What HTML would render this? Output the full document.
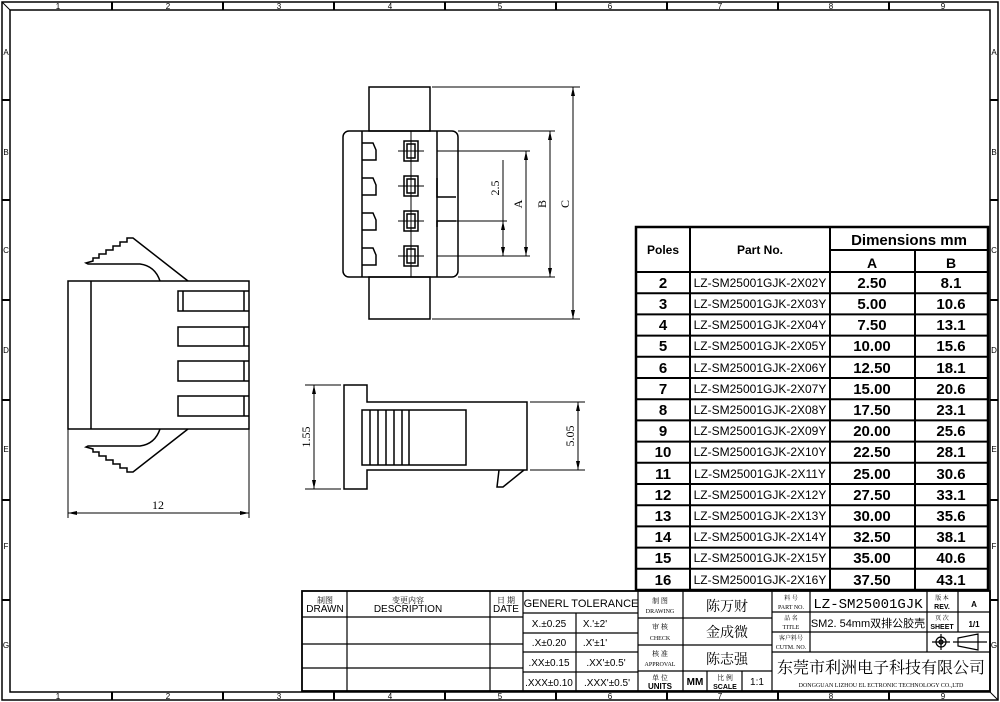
<!DOCTYPE html>
<html><head><meta charset="utf-8"><style>
html,body{margin:0;padding:0;background:#fff}
svg{display:block}
text{font-family:"Liberation Sans","Noto Sans CJK SC",sans-serif;fill:#000}
.s{font-family:"Liberation Serif","Noto Serif CJK SC",serif}
</style></head><body>
<svg width="1000" height="702" viewBox="0 0 1000 702" xmlns="http://www.w3.org/2000/svg">
<g fill="none" stroke="#000">
<!-- frame -->
<rect x="2" y="2" width="996" height="698" stroke-width="1.5"/>
<rect x="10" y="10" width="980" height="682" stroke-width="1.5"/>
<line x1="2" y1="2" x2="10" y2="10"/><line x1="998" y1="700" x2="990" y2="692"/>
<g stroke-width="2">
<line x1="112" y1="2" x2="112" y2="10"/><line x1="223" y1="2" x2="223" y2="10"/><line x1="334" y1="2" x2="334" y2="10"/><line x1="445" y1="2" x2="445" y2="10"/><line x1="556" y1="2" x2="556" y2="10"/><line x1="667" y1="2" x2="667" y2="10"/><line x1="778" y1="2" x2="778" y2="10"/><line x1="889" y1="2" x2="889" y2="10"/>
<line x1="112" y1="692" x2="112" y2="700"/><line x1="223" y1="692" x2="223" y2="700"/><line x1="334" y1="692" x2="334" y2="700"/><line x1="445" y1="692" x2="445" y2="700"/><line x1="556" y1="692" x2="556" y2="700"/><line x1="667" y1="692" x2="667" y2="700"/><line x1="778" y1="692" x2="778" y2="700"/><line x1="889" y1="692" x2="889" y2="700"/>
<line x1="2" y1="100" x2="10" y2="100"/><line x1="2" y1="200" x2="10" y2="200"/><line x1="2" y1="300" x2="10" y2="300"/><line x1="2" y1="400" x2="10" y2="400"/><line x1="2" y1="500" x2="10" y2="500"/><line x1="2" y1="600" x2="10" y2="600"/>
<line x1="990" y1="100" x2="998" y2="100"/><line x1="990" y1="200" x2="998" y2="200"/><line x1="990" y1="300" x2="998" y2="300"/><line x1="990" y1="400" x2="998" y2="400"/><line x1="990" y1="500" x2="998" y2="500"/><line x1="990" y1="600" x2="998" y2="600"/>
</g>

<!-- top view -->
<g stroke-width="1.5">
<rect x="369" y="87" width="61" height="44"/>
<rect x="369" y="277" width="61" height="42"/>
<rect x="343" y="131" width="115" height="146" rx="6"/>
<line x1="362" y1="131" x2="362" y2="277"/>
<line x1="437" y1="131" x2="437" y2="277"/>
<path d="M362 143 H373 L376 150 V160 H362"/>
<path d="M362 178 H373 L376 185 V195 H362"/>
<path d="M362 213 H373 L376 220 V230 H362"/>
<path d="M362 248 H373 L376 255 V265 H362"/>
<path d="M437 178 V197 H456 M437 227 V221 H456"/>
<rect x="404" y="141" width="14" height="20"/><rect x="407" y="144" width="8" height="14"/>
<rect x="404" y="176" width="14" height="20"/><rect x="407" y="179" width="8" height="14"/>
<rect x="404" y="211" width="14" height="20"/><rect x="407" y="214" width="8" height="14"/>
<rect x="404" y="246" width="14" height="20"/><rect x="407" y="249" width="8" height="14"/>
</g>
<g stroke-width="1">
<line x1="411" y1="131" x2="411" y2="277"/>
<line x1="398" y1="151" x2="424" y2="151"/><line x1="398" y1="186" x2="424" y2="186"/><line x1="398" y1="221" x2="424" y2="221"/><line x1="398" y1="256" x2="424" y2="256"/>
<line x1="437" y1="151" x2="530" y2="151"/><line x1="437" y1="256" x2="530" y2="256"/>
<line x1="437" y1="221" x2="507" y2="221"/>
<line x1="458" y1="131" x2="555" y2="131"/><line x1="458" y1="277" x2="555" y2="277"/>
<line x1="432" y1="87" x2="580" y2="87"/><line x1="432" y1="319" x2="580" y2="319"/>
<line x1="503" y1="160" x2="503" y2="256"/>
<line x1="526" y1="151" x2="526" y2="256"/>
<line x1="550" y1="131" x2="550" y2="277"/>
<line x1="573" y1="87" x2="573" y2="319"/>
</g>
<!-- left side view -->
<g stroke-width="1.5">
<rect x="68" y="281" width="181" height="148"/>
<line x1="91" y1="281" x2="91" y2="429"/>
<path d="M249 291 H178 V311 H249 M183 291 V311 M244 291 V311"/>
<path d="M249 327 H178 V346 H249 M244 327 V346"/>
<path d="M249 361 H178 V381 H249 M244 361 V381"/>
<path d="M249 396 H178 V416 H249 M244 396 V416"/>
<path d="M188 281 L133 238 H127 V242 H120 V246 H113 V250 H106 V254 H99 V258 H93 V261 L86 263 L88 264 H140 Q155 266 160 281"/>
<path d="M188 429 L133 472 H127 V468 H120 V464 H113 V460 H106 V456 H99 V452 H93 V449 L86 447 L88 446 H140 Q155 444 160 429"/>
</g>
<g stroke-width="1">
<line x1="68" y1="429" x2="68" y2="518"/><line x1="249" y1="429" x2="249" y2="518"/>
<line x1="68" y1="513" x2="249" y2="513"/>
</g>
<!-- front view -->
<g stroke-width="1.5">
<path d="M344 385 H367 V402 H527 V470 H367 V489 H344 Z"/>
<rect x="362" y="410" width="104" height="55"/>
<path d="M370 410 V465 M378 410 V465 M386 410 V465 M394 410 V465 M402 410 V465 M409 410 V465"/>
<path d="M499 470 L497 487 H503 L524 470"/>
</g>
<g stroke-width="1">
<line x1="305" y1="385" x2="341" y2="385"/><line x1="305" y1="489" x2="341" y2="489"/>
<line x1="314" y1="385" x2="314" y2="489"/>
<line x1="530" y1="402" x2="585" y2="402"/><line x1="530" y1="470" x2="585" y2="470"/>
<line x1="578" y1="402" x2="578" y2="470"/>
</g>
</g>
<!-- arrowheads -->
<g fill="#000">
<path d="M526 151 l-2 9 h4z M526 256 l-2 -9 h4z"/>
<path d="M550 131 l-2 9 h4z M550 277 l-2 -9 h4z"/>
<path d="M573 87 l-2 9 h4z M573 319 l-2 -9 h4z"/>
<path d="M503 221 l-2 9 h4z M503 256 l-2 -9 h4z"/>
<path d="M68 513 l9 -2 v4z M249 513 l-9 -2 v4z"/>
<path d="M314 385 l-2 9 h4z M314 489 l-2 -9 h4z"/>
<path d="M578 402 l-2 9 h4z M578 470 l-2 -9 h4z"/>
</g>
<g class="s" font-size="12">
<text class="s" transform="translate(499,188) rotate(-90)" text-anchor="middle">2.5</text>
<text class="s" transform="translate(522,204) rotate(-90)" text-anchor="middle">A</text>
<text class="s" transform="translate(546,204) rotate(-90)" text-anchor="middle">B</text>
<text class="s" transform="translate(569,204) rotate(-90)" text-anchor="middle">C</text>
<text class="s" transform="translate(310,437) rotate(-90)" text-anchor="middle">1.55</text>
<text class="s" transform="translate(574,436) rotate(-90)" text-anchor="middle">5.05</text>
<text class="s" x="158" y="509" text-anchor="middle">12</text>
</g>
<!-- frame labels -->
<g font-size="8" text-anchor="middle">
<text x="58" y="9">1</text><text x="168" y="9">2</text><text x="279" y="9">3</text><text x="390" y="9">4</text><text x="500" y="9">5</text><text x="610" y="9">6</text><text x="720" y="9">7</text><text x="831" y="9">8</text><text x="943" y="9">9</text>
<text x="58" y="699">1</text><text x="168" y="699">2</text><text x="279" y="699">3</text><text x="390" y="699">4</text><text x="500" y="699">5</text><text x="610" y="699">6</text><text x="720" y="699">7</text><text x="831" y="699">8</text><text x="943" y="699">9</text>
<text x="6" y="55">A</text><text x="6" y="155">B</text><text x="6" y="253">C</text><text x="6" y="353">D</text><text x="6" y="452">E</text><text x="6" y="549">F</text><text x="6" y="648">G</text>
<text x="994" y="55">A</text><text x="994" y="155">B</text><text x="994" y="253">C</text><text x="994" y="353">D</text><text x="994" y="452">E</text><text x="994" y="549">F</text><text x="994" y="648">G</text>
</g>

<!-- dimension table -->
<g fill="none" stroke="#000" stroke-width="2">
<rect x="636" y="227" width="352" height="363" stroke-width="2.5"/>
<line x1="690" y1="227" x2="690" y2="590"/>
<line x1="830" y1="227" x2="830" y2="590"/>
<line x1="915" y1="250" x2="915" y2="590"/>
<line x1="830" y1="250" x2="988" y2="250"/>
<line x1="636" y1="272" x2="988" y2="272"/>
<line x1="636" y1="293.2" x2="988" y2="293.2"/><line x1="636" y1="314.4" x2="988" y2="314.4"/><line x1="636" y1="335.6" x2="988" y2="335.6"/><line x1="636" y1="356.8" x2="988" y2="356.8"/><line x1="636" y1="378" x2="988" y2="378"/><line x1="636" y1="399.2" x2="988" y2="399.2"/><line x1="636" y1="420.4" x2="988" y2="420.4"/><line x1="636" y1="441.6" x2="988" y2="441.6"/><line x1="636" y1="462.8" x2="988" y2="462.8"/><line x1="636" y1="484" x2="988" y2="484"/><line x1="636" y1="505.2" x2="988" y2="505.2"/><line x1="636" y1="526.4" x2="988" y2="526.4"/><line x1="636" y1="547.6" x2="988" y2="547.6"/><line x1="636" y1="568.8" x2="988" y2="568.8"/>
</g>
<g text-anchor="middle">
<text x="663" y="254" font-size="12" font-weight="bold">Poles</text>
<text x="760" y="254" font-size="12" font-weight="bold">Part No.</text>
<text x="909" y="245" font-size="15" font-weight="bold">Dimensions mm</text>
<text x="872" y="268" font-size="14" font-weight="bold">A</text>
<text x="951" y="268" font-size="14" font-weight="bold">B</text>
</g>
<g font-size="15" font-weight="bold" text-anchor="middle">
<text x="663" y="288">2</text><text x="663" y="309">3</text><text x="663" y="330">4</text><text x="663" y="351">5</text><text x="663" y="373">6</text><text x="663" y="394">7</text><text x="663" y="415">8</text><text x="663" y="436">9</text><text x="663" y="457">10</text><text x="663" y="479">11</text><text x="663" y="500">12</text><text x="663" y="521">13</text><text x="663" y="542">14</text><text x="663" y="563">15</text><text x="663" y="585">16</text>
<text x="872" y="288">2.50</text><text x="872" y="309">5.00</text><text x="872" y="330">7.50</text><text x="872" y="351">10.00</text><text x="872" y="373">12.50</text><text x="872" y="394">15.00</text><text x="872" y="415">17.50</text><text x="872" y="436">20.00</text><text x="872" y="457">22.50</text><text x="872" y="479">25.00</text><text x="872" y="500">27.50</text><text x="872" y="521">30.00</text><text x="872" y="542">32.50</text><text x="872" y="563">35.00</text><text x="872" y="585">37.50</text>
<text x="951" y="288">8.1</text><text x="951" y="309">10.6</text><text x="951" y="330">13.1</text><text x="951" y="351">15.6</text><text x="951" y="373">18.1</text><text x="951" y="394">20.6</text><text x="951" y="415">23.1</text><text x="951" y="436">25.6</text><text x="951" y="457">28.1</text><text x="951" y="479">30.6</text><text x="951" y="500">33.1</text><text x="951" y="521">35.6</text><text x="951" y="542">38.1</text><text x="951" y="563">40.6</text><text x="951" y="585">43.1</text>
</g>
<g font-size="12" text-anchor="middle">
<text x="760" y="287">LZ-SM25001GJK-2X02Y</text><text x="760" y="308">LZ-SM25001GJK-2X03Y</text><text x="760" y="329">LZ-SM25001GJK-2X04Y</text><text x="760" y="350">LZ-SM25001GJK-2X05Y</text><text x="760" y="372">LZ-SM25001GJK-2X06Y</text><text x="760" y="393">LZ-SM25001GJK-2X07Y</text><text x="760" y="414">LZ-SM25001GJK-2X08Y</text><text x="760" y="435">LZ-SM25001GJK-2X09Y</text><text x="760" y="456">LZ-SM25001GJK-2X10Y</text><text x="760" y="478">LZ-SM25001GJK-2X11Y</text><text x="760" y="499">LZ-SM25001GJK-2X12Y</text><text x="760" y="520">LZ-SM25001GJK-2X13Y</text><text x="760" y="541">LZ-SM25001GJK-2X14Y</text><text x="760" y="562">LZ-SM25001GJK-2X15Y</text><text x="760" y="584">LZ-SM25001GJK-2X16Y</text>
</g>

<!-- title block -->
<g fill="none" stroke="#000" stroke-width="1.2">
<rect x="302" y="591" width="688" height="100" stroke-width="1.8"/>
<line x1="347" y1="591" x2="347" y2="691"/>
<line x1="490" y1="591" x2="490" y2="691"/>
<line x1="523" y1="591" x2="523" y2="691"/>
<line x1="302" y1="617" x2="523" y2="617"/><line x1="302" y1="644" x2="523" y2="644"/><line x1="302" y1="668" x2="523" y2="668"/>
<line x1="576" y1="613" x2="576" y2="691"/>
<line x1="638" y1="591" x2="638" y2="691"/>
<line x1="523" y1="613" x2="638" y2="613"/><line x1="523" y1="633" x2="638" y2="633"/><line x1="523" y1="652" x2="638" y2="652"/><line x1="523" y1="672" x2="638" y2="672"/>
<line x1="683" y1="591" x2="683" y2="691"/>
<line x1="638" y1="618" x2="772" y2="618"/><line x1="638" y1="645" x2="772" y2="645"/><line x1="638" y1="671" x2="772" y2="671"/>
<line x1="707" y1="671" x2="707" y2="691"/><line x1="742" y1="671" x2="742" y2="691"/>
<line x1="772" y1="591" x2="772" y2="691"/>
<line x1="810" y1="591" x2="810" y2="652"/>
<line x1="927" y1="591" x2="927" y2="652"/>
<line x1="958" y1="591" x2="958" y2="632"/>
<line x1="772" y1="612" x2="990" y2="612"/><line x1="772" y1="632" x2="990" y2="632"/><line x1="772" y1="652" x2="990" y2="652"/>
<circle cx="941" cy="642" r="5"/><circle cx="941" cy="642" r="2"/>
<line x1="932" y1="642" x2="950" y2="642"/><line x1="941" y1="634" x2="941" y2="650"/>
<path d="M958 638 L978 634 V650 L958 646 Z"/><line x1="953" y1="642" x2="987" y2="642"/>
</g>
<g text-anchor="middle">
<text x="325" y="603" font-size="8" class="s">制图</text><text x="325" y="612" font-size="10">DRAWN</text>
<text x="408" y="603" font-size="8" class="s">变更内容</text><text x="408" y="612" font-size="10">DESCRIPTION</text>
<text x="506" y="603" font-size="8" class="s">日 期</text><text x="506" y="612" font-size="10">DATE</text>
<text x="581" y="607" font-size="11">GENERL  TOLERANCE</text>
<text x="549" y="627" font-size="10">X.±0.25</text><text x="595" y="627" font-size="10">X.'±2'</text>
<text x="549" y="646" font-size="10">.X±0.20</text><text x="595" y="646" font-size="10">.X'±1'</text>
<text x="549" y="666" font-size="10">.XX±0.15</text><text x="606" y="666" font-size="10">.XX'±0.5'</text>
<text x="549" y="686" font-size="10">.XXX±0.10</text><text x="607" y="686" font-size="10">.XXX'±0.5'</text>
<text x="660" y="603" font-size="7" class="s">制 图</text><text x="660" y="613" font-size="6" class="s">DRAWING</text>
<text x="660" y="629" font-size="7" class="s">审 核</text><text x="660" y="640" font-size="6" class="s">CHECK</text>
<text x="660" y="656" font-size="7" class="s">核 准</text><text x="660" y="666" font-size="6" class="s">APPROVAL</text>
<text x="660" y="680" font-size="7" class="s">单 位</text><text x="660" y="689" font-size="8" font-weight="bold">UNITS</text>
<text x="727" y="611" font-size="14" class="s">陈万财</text>
<text x="727" y="637" font-size="14" class="s">金成微</text>
<text x="727" y="664" font-size="14" class="s">陈志强</text>
<text x="695" y="685" font-size="10" font-weight="bold">MM</text>
<text x="725" y="680" font-size="7" class="s">比 例</text><text x="725" y="689" font-size="7" font-weight="bold">SCALE</text>
<text x="757" y="685" font-size="10">1:1</text>
<text x="791" y="600" font-size="6" class="s">料 号</text><text x="791" y="609" font-size="6" class="s">PART NO.</text>
<text x="791" y="620" font-size="6" class="s">品 名</text><text x="791" y="629" font-size="6" class="s">TITLE</text>
<text x="791" y="640" font-size="6" class="s">客户料号</text><text x="791" y="649" font-size="6" class="s">CUTM. NO.</text>
<text x="868" y="608" font-size="14" font-family="Liberation Mono" style="font-family:'Liberation Mono',monospace">LZ-SM25001GJK</text>
<text x="868" y="627" font-size="11">SM2. 54mm双排公胶壳</text>
<text x="942" y="600" font-size="6" class="s">版 本</text><text x="942" y="609" font-size="7" font-weight="bold">REV.</text>
<text x="942" y="620" font-size="6" class="s">页 次</text><text x="942" y="629" font-size="7" font-weight="bold">SHEET</text>
<text x="974" y="607" font-size="8" font-weight="bold">A</text>
<text x="974" y="627" font-size="8" font-weight="bold">1/1</text>
<text x="881" y="673" font-size="16" class="s">东莞市利洲电子科技有限公司</text>
<text x="881" y="687" font-size="6" class="s">DONGGUAN LIZHOU EL ECTRONIC TECHNOLOGY CO.,LTD</text>
</g>
</svg>
</body></html>
